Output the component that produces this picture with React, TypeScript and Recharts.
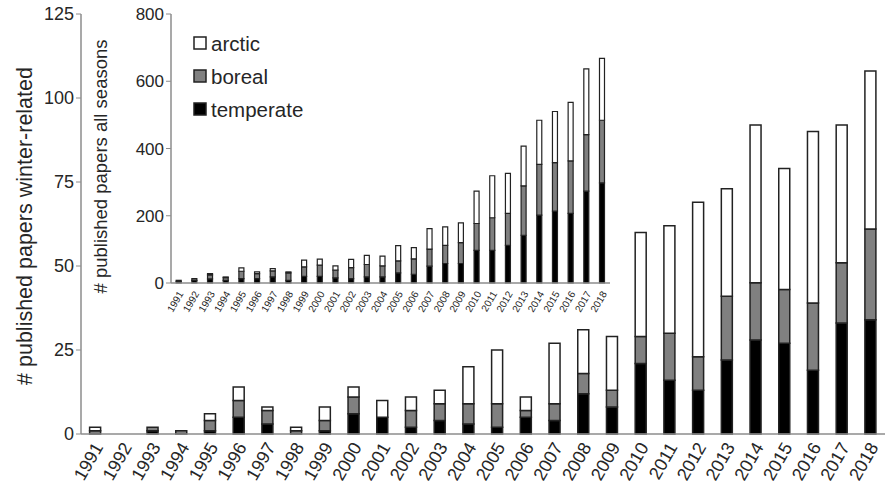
import React from "react";
import { Bar, BarChart, Label, Legend, XAxis, YAxis } from "recharts";

const years = [
  "1991", "1992", "1993", "1994", "1995", "1996", "1997", "1998", "1999", "2000",
  "2001", "2002", "2003", "2004", "2005", "2006", "2007", "2008", "2009", "2010",
  "2011", "2012", "2013", "2014", "2015", "2016", "2017", "2018",
];

// winter-related papers (main chart)
const winterTemperate = [0, 0, 1, 0, 1, 5, 3, 0, 1, 6, 5, 2, 4, 3, 2, 5, 4, 12, 8, 21, 16, 13, 22, 28, 27, 19, 33, 34];
const winterBoreal = [1, 0, 1, 1, 3, 5, 4, 1, 3, 5, 0, 5, 5, 6, 7, 2, 5, 6, 5, 8, 14, 10, 19, 17, 16, 20, 18, 27];
const winterArctic = [1, 0, 0, 0, 2, 4, 1, 1, 4, 3, 5, 4, 4, 11, 16, 4, 18, 13, 16, 31, 32, 46, 32, 47, 36, 51, 41, 47];

// all seasons (inset)
const allTemperate = [5, 8, 12, 8, 13, 13, 18, 8, 20, 20, 15, 13, 18, 18, 30, 26, 50, 58, 58, 97, 97, 112, 142, 202, 214, 207, 273, 298];
const allBoreal = [3, 5, 12, 8, 22, 15, 18, 22, 28, 33, 23, 33, 37, 33, 36, 46, 51, 54, 62, 80, 97, 95, 147, 151, 144, 156, 168, 186];
const allArctic = [0, 0, 4, 2, 10, 5, 7, 3, 20, 18, 13, 24, 27, 29, 45, 33, 61, 55, 59, 96, 125, 119, 118, 131, 152, 174, 196, 184];

const mainTicks = [0, 25, 50, 75, 100, 125];
const insetTicks = [0, 200, 400, 600, 800];

const winterData = years.map((year, i) => ({
  year,
  temperate: winterTemperate[i],
  boreal: winterBoreal[i],
  arctic: winterArctic[i],
}));

const allData = years.map((year, i) => ({
  year,
  temperate: allTemperate[i],
  boreal: allBoreal[i],
  arctic: allArctic[i],
}));

const FONT = '"Liberation Sans", Arial, sans-serif';
const TEXT = "#262626";
const AXIS = "#8c8c8c";
const OUTLINE = "#222";

const colors: Record<string, string> = {
  arctic: "#ffffff",
  boreal: "#808080",
  temperate: "#000000",
};

const MainTick = (props: any) => {
  const { x, y, payload } = props;
  const px = x + 3;
  const py = y + 2;
  return (
    <text
      x={px}
      y={py}
      dy="0.35em"
      transform={`rotate(-60 ${px} ${py})`}
      textAnchor="end"
      fontSize={18}
      fill={TEXT}
      fontFamily={FONT}
    >
      {payload.value}
    </text>
  );
};

const InsetTick = (props: any) => {
  const { x, y, payload } = props;
  const px = x + 2;
  const py = y + 1;
  return (
    <text
      x={px}
      y={py}
      dy="0.35em"
      transform={`rotate(-60 ${px} ${py})`}
      textAnchor="end"
      fontSize={10}
      fill={TEXT}
      fontFamily={FONT}
    >
      {payload.value}
    </text>
  );
};

// rotated axis title, dx from axis box left, shift down from plot middle
const axisTitle = (text: string, dx: number, shift: number, size: number) => (props: any) => {
  const vb = props.viewBox || {};
  const cx = (vb.x || 0) + dx;
  const cy = (vb.y || 0) + (vb.height || 0) / 2 + shift;
  return (
    <text
      x={cx}
      y={cy}
      transform={`rotate(-90 ${cx} ${cy})`}
      textAnchor="middle"
      dominantBaseline="central"
      fontSize={size}
      fill={TEXT}
      fontFamily={FONT}
    >
      {text}
    </text>
  );
};

const legendOrder = ["arctic", "boreal", "temperate"];

const LegendBox = () => (
  <div style={{ fontFamily: FONT, color: TEXT }}>
    {legendOrder.map((k) => (
      <div key={k} style={{ display: "flex", alignItems: "center", height: 33 }}>
        <svg width={15} height={15} style={{ marginRight: 3, flex: "none" }}>
          <rect x={1} y={1} width={12} height={12} fill={colors[k]} stroke={OUTLINE} strokeWidth={1.5} />
        </svg>
        <span style={{ fontSize: 20.5, lineHeight: "22px" }}>{k}</span>
      </div>
    ))}
  </div>
);

export default function App() {
  return (
    <div
      style={{
        position: "absolute",
        left: 0,
        top: 0,
        width: 887,
        height: 491,
        background: "#fff",
        fontFamily: FONT,
      }}
    >
      <div style={{ position: "absolute", left: 0, top: 0 }}>
        <BarChart
          width={887}
          height={491}
          data={winterData}
          margin={{ top: 14, right: 2, bottom: 0, left: 0 }}
          barCategoryGap="30%"
        >
          <XAxis
            dataKey="year"
            height={57}
            interval={0}
            tickLine={false}
            axisLine={{ stroke: AXIS, strokeWidth: 1.5 }}
            tick={<MainTick />}
          />
          <YAxis
            width={81}
            domain={[0, 125]}
            ticks={mainTicks}
            interval={0}
            tickSize={5}
            tickLine={{ stroke: AXIS }}
            axisLine={{ stroke: AXIS, strokeWidth: 1.5 }}
            tick={{ fontSize: 18, fill: TEXT, fontFamily: FONT }}
          >
            <Label content={axisTitle("# published papers winter-related", 25, 2, 21.5)} />
          </YAxis>
          <Bar dataKey="temperate" stackId="w" fill={colors.temperate} stroke={OUTLINE} strokeWidth={1.5} isAnimationActive={false} />
          <Bar dataKey="boreal" stackId="w" fill={colors.boreal} stroke={OUTLINE} strokeWidth={1.5} isAnimationActive={false} />
          <Bar dataKey="arctic" stackId="w" fill={colors.arctic} stroke={OUTLINE} strokeWidth={1.5} isAnimationActive={false} />
        </BarChart>
      </div>
      <div style={{ position: "absolute", left: 0, top: 0 }}>
        <BarChart
          width={620}
          height={330}
          data={allData}
          margin={{ top: 14, right: 10, bottom: 0, left: 0 }}
          barCategoryGap="33%"
        >
          <XAxis
            dataKey="year"
            height={47}
            interval={0}
            tickLine={false}
            axisLine={{ stroke: AXIS, strokeWidth: 1.5 }}
            tick={<InsetTick />}
          />
          <YAxis
            width={171}
            domain={[0, 800]}
            ticks={insetTicks}
            interval={0}
            tickSize={5}
            tickLine={{ stroke: AXIS }}
            axisLine={{ stroke: AXIS, strokeWidth: 1.5 }}
            tick={{ fontSize: 17, fill: TEXT, fontFamily: FONT }}
          >
            <Label content={axisTitle("# published papers all seasons", 100, 18, 18.5)} />
          </YAxis>
          <Legend
            layout="horizontal"
            verticalAlign="middle"
            align="center"
            wrapperStyle={{ left: 193, top: 27, width: "auto" }}
            content={() => <LegendBox />}
          />
          <Bar dataKey="temperate" stackId="a" fill={colors.temperate} stroke={OUTLINE} strokeWidth={1.2} isAnimationActive={false} />
          <Bar dataKey="boreal" stackId="a" fill={colors.boreal} stroke={OUTLINE} strokeWidth={1.2} isAnimationActive={false} />
          <Bar dataKey="arctic" stackId="a" fill={colors.arctic} stroke={OUTLINE} strokeWidth={1.2} isAnimationActive={false} />
        </BarChart>
      </div>
    </div>
  );
}
